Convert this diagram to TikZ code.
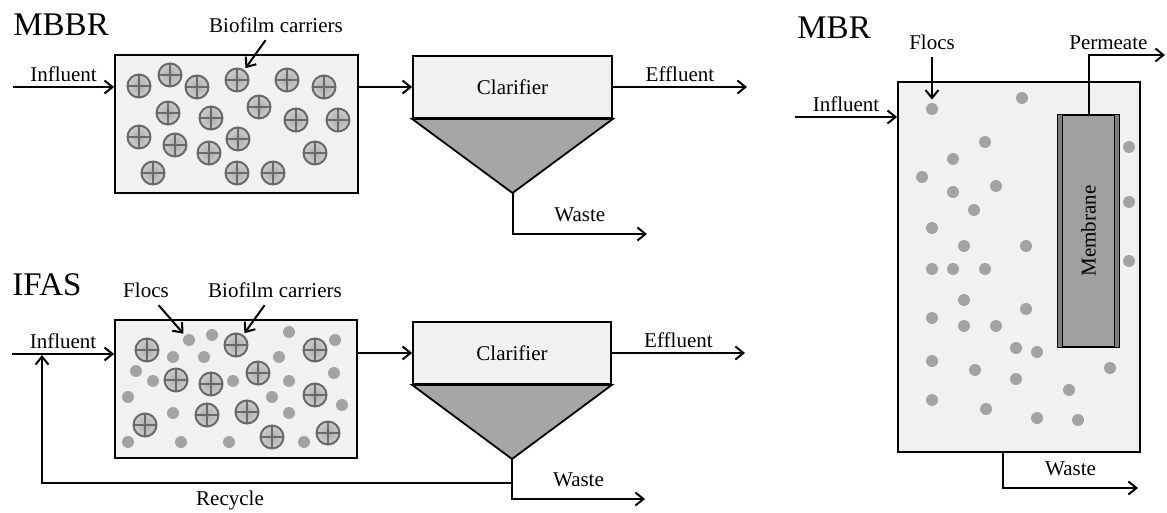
\documentclass[tikz,border=0pt]{standalone}
\usepackage{fontspec}
\setmainfont{Liberation Serif}
\usetikzlibrary{arrows.meta}
\definecolor{tankgray}{RGB}{241,241,241}
\definecolor{sludgegray}{RGB}{166,166,166}
\definecolor{flocgray}{RGB}{163,163,163}
\definecolor{ringgray}{RGB}{105,105,105}
\definecolor{membgray}{RGB}{160,160,160}
\definecolor{stripgray}{RGB}{125,125,125}

\begin{document}
\begin{tikzpicture}[
  x=0.5pt, y=-0.5pt,
  every node/.style={font=\fontsize{10.5}{12.6}\selectfont},
  heading/.style={font=\fontsize{16.5}{19.8}\selectfont, inner sep=0pt, anchor=base west},
  tank/.style={draw, line width=0.9pt, fill=tankgray, inner sep=0pt},
  sludge/.style={draw, line width=0.9pt, fill=sludgegray},
  carrier/.style={circle, draw=ringgray, line width=1pt, minimum size=11.5pt, inner sep=0pt,
    inner color=gray!65, outer color=gray!40,
    path picture={\draw[ringgray, line width=0.6pt]
      (path picture bounding box.north) -- (path picture bounding box.south)
      (path picture bounding box.west) -- (path picture bounding box.east);}},
  floc/.style={circle, fill=flocgray, minimum size=6pt, inner sep=0pt},
  membbox/.style={draw, line width=0.6pt, fill=membgray, inner sep=0pt},
  strip/.style={draw, line width=0.6pt, fill=stripgray},
  lbl/.style={inner sep=2pt},
  arr/.style={-{Straight Barb[length=4pt, width=6.5pt]}, line width=1pt}
]
  \useasboundingbox (0,0) rectangle (1167,513);

  % MBBR
  \node[heading] (tmbbr) at (13,36) {MBBR};
  \node[tank, minimum width=121.5pt, minimum height=69pt] (mbbr) at (236.5,124) {};
  \foreach \px/\py [count=\i] in {139/86, 170/75, 197/87, 237/80, 287/80, 324/87, 168/113,
      211/118, 259/107, 296/120, 338/120, 139/137, 175/145, 209/153, 238/139, 315/153,
      153/173, 237/173, 273/173}
    \node[carrier] (mc\i) at (\px,\py) {};
  \node[anchor=base] (mlbio) at (276,33) {Biofilm carriers};
  \draw[arr, shorten >=1pt] (mlbio) -- (mc4);

  \node[tank, minimum width=99.5pt, minimum height=31pt] (mclar) at (512.5,87) {Clarifier};
  \coordinate (mapex) at (512.5,193);
  \filldraw[sludge] (mclar.south west) -- (mclar.south east) -- (mapex) -- cycle;

  \coordinate (min) at (13,87);
  \coordinate (meff) at (747,87);
  \coordinate (mwaste) at (647,234);
  \draw[arr] (min) -- node[lbl, above] (lmin) {Influent} (mbbr.west |- min);
  \draw[arr] (mbbr.east |- mclar.west) -- (mclar.west);
  \draw[arr] (mclar.east) -- node[lbl, above] (lmeff) {Effluent} (meff);
  \draw[arr] (mapex) |- node[pos=0.75, above=2.5pt] (lmwaste) {Waste} (mwaste);

  % IFAS
  \node[heading] (tifas) at (12,295) {IFAS};
  \node[tank, minimum width=121pt, minimum height=69pt] (ifas) at (236,389) {};
  \foreach \px/\py [count=\i] in {189/340, 212/335, 289/332, 335/340, 173/357, 204/357,
      279/357, 136/371, 153/381, 233/381, 289/381, 334/373, 128/397, 272/397, 342/405,
      173/413, 289/413, 128/442, 181/442, 229/442, 304/442}
    \node[floc] (if\i) at (\px,\py) {};
  \foreach \px/\py [count=\i] in {147/350, 236/345, 315/350, 176/380, 211/384, 258/373,
      315/395, 145/425, 207/415, 247/412, 272/437, 328/433}
    \node[carrier] (ic\i) at (\px,\py) {};
  \node[anchor=base] (ilflocs) at (146,298) {Flocs};
  \node[anchor=base] (ilbio) at (275,298) {Biofilm carriers};
  \draw[arr, shorten >=1pt] (ilflocs) -- (if1);
  \draw[arr, shorten >=1pt] (ilbio) -- (ic2);

  \node[tank, minimum width=99pt, minimum height=31pt] (iclar) at (512,353) {Clarifier};
  \coordinate (iapex) at (512,459);
  \filldraw[sludge] (iclar.south west) -- (iclar.south east) -- (iapex) -- cycle;

  \coordinate (iin) at (12,354);
  \coordinate (ieff) at (745,353);
  \coordinate (iwaste) at (645,499);
  \coordinate (irec) at (512,483);
  \coordinate (irt) at (42,355);
  \draw[arr] (iin) -- node[lbl, above] (liin) {Influent} (ifas.west |- iin);
  \draw[arr] (ifas.east |- iclar.west) -- (iclar.west);
  \draw[arr] (iclar.east) -- node[lbl, above] (lieff) {Effluent} (ieff);
  \draw[arr] (iapex) |- node[pos=0.75, above=2.5pt] (liwaste) {Waste} (iwaste);
  \draw[arr] (irec) -| node[pos=0.3, below] (lirec) {Recycle} (irt);

  % MBR
  \node[heading] (tmbr) at (797,39) {MBR};
  \node[tank, minimum width=121pt, minimum height=185pt] (mbr) at (1019,267) {};
  \foreach \px/\py [count=\i] in {932/109, 1022/98, 985/142, 953/159, 922/177, 996/186,
      953/192, 974/210, 932/228, 964/246, 1026/246, 1129/147, 1129/202, 1129/261, 932/269,
      953/269, 985/269, 964/300, 1026/309, 932/318, 964/326, 996/326, 1016/348, 1037/352,
      932/361, 975/370, 1016/379, 1110/368, 1069/390, 932/400, 986/409, 1037/418, 1078/420}
    \node[floc] (rf\i) at (\px,\py) {};
  \node[membbox, minimum width=30.5pt, minimum height=116pt] (memb) at (1088.5,231) {};
  \filldraw[strip] (memb.north west) rectangle ([xshift=2.5pt]memb.south west);
  \filldraw[strip] ([xshift=-2.5pt]memb.north east) rectangle (memb.south east);
  \node[rotate=90] (lmemb) at (memb) {Membrane};

  \node[anchor=base] (rlflocs) at (932,50) {Flocs};
  \draw[arr, shorten >=1.5pt] (rlflocs) -- (rf1);

  \coordinate (rin) at (795,117);
  \coordinate (rperm) at (1165,55);
  \coordinate (rwaste) at (1138,488);
  \draw[arr] (rin) -- node[lbl, above] (lrin) {Influent} (mbr.west |- rin);
  \draw[arr] (memb.north) |- node[lbl, pos=0.63, above] (lrperm) {Permeate} (rperm);
  \draw[arr] ([xshift=-8pt]mbr.south) |- node[pos=0.75, above=2.5pt] (lrwaste) {Waste} (rwaste);
\end{tikzpicture}
\end{document}
